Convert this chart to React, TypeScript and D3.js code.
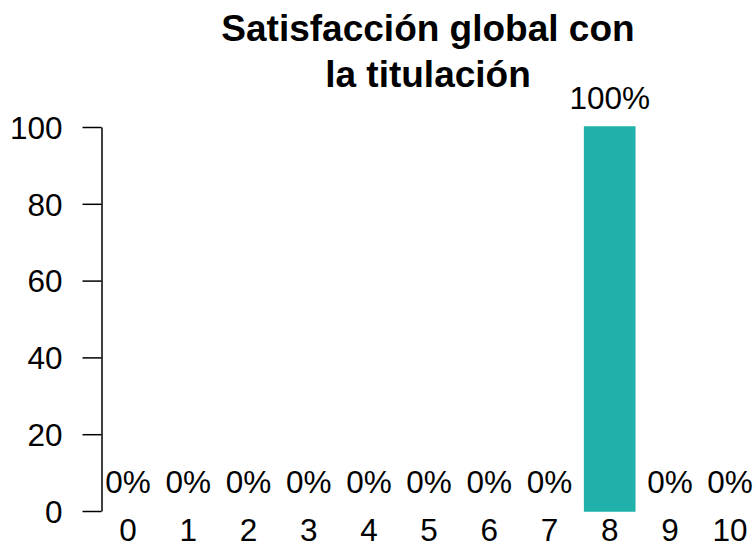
import React, { useEffect, useRef } from 'react';
import * as d3 from 'd3';

const categories = ['0', '1', '2', '3', '4', '5', '6', '7', '8', '9', '10'];
const values = [0, 0, 0, 0, 0, 0, 0, 0, 100, 0, 0];
const yTicks = [0, 20, 40, 60, 80, 100];
const titleLines = ['Satisfacción global con', 'la titulación'];

const App: React.FC = () => {
  const svgRef = useRef<SVGSVGElement | null>(null);

  useEffect(() => {
    if (!svgRef.current) return;
    const svg = d3.select(svgRef.current);
    svg.selectAll('*').remove();
    const font = 'Liberation Sans, Arial, sans-serif';
    const fs = 31.5;

    const x = d3.scaleBand<string>()
      .domain(categories)
      .range([103, 755.2])
      .paddingInner(1 / 6)
      .paddingOuter(0);

    const y = d3.scaleLinear().domain([0, 100]).range([511, 127]);

    // bars (zero bars show as a thin teal line)
    svg.append('g')
      .selectAll('rect')
      .data(values)
      .join('rect')
      .attr('x', (d, i) => x(categories[i])!)
      .attr('y', d => y(d))
      .attr('width', x.bandwidth())
      .attr('height', d => y(0) - y(d))
      .attr('fill', '#20B2AA')
      .attr('stroke', '#20B2AA')
      .attr('stroke-width', 1.5);

    // value labels
    svg.append('g')
      .selectAll('text')
      .data(values)
      .join('text')
      .attr('x', (d, i) => x(categories[i])! + x.bandwidth() / 2)
      .attr('y', d => y(d) - 18.5)
      .attr('text-anchor', 'middle')
      .style('font', `${fs}px ${font}`)
      .attr('fill', '#000')
      .text(d => `${d}%`);

    // category labels
    svg.append('g')
      .selectAll('text')
      .data(categories)
      .join('text')
      .attr('x', d => x(d)! + x.bandwidth() / 2)
      .attr('y', 541)
      .attr('text-anchor', 'middle')
      .style('font', `${fs}px ${font}`)
      .text(d => d);

    // y axis
    const yAxis = svg.append('g').attr('transform', 'translate(101.5,0)')
      .call(d3.axisLeft(y).tickValues(yTicks).tickSize(19).tickPadding(20).tickSizeOuter(0));
    yAxis.select('.domain').attr('stroke', '#000').attr('stroke-width', 1.5);
    yAxis.selectAll('.tick line').attr('stroke', '#000').attr('stroke-width', 1.5);
    yAxis.selectAll('.tick text')
      .style('font', `${fs}px ${font}`)
      .attr('fill', '#000')
      .attr('dy', '0.36em');

    // title
    svg.append('text')
      .attr('x', 428)
      .attr('text-anchor', 'middle')
      .style('font', `bold 37px ${font}`)
      .selectAll('tspan')
      .data(titleLines)
      .join('tspan')
      .attr('x', 428)
      .attr('y', (d, i) => 40.5 + i * 46.5)
      .text(d => d);
  }, []);

  return (
    <svg ref={svgRef} width={756} height={544}
      style={{ position: 'absolute', left: 0, top: 0, background: '#fff' }} />
  );
};

export default App;
